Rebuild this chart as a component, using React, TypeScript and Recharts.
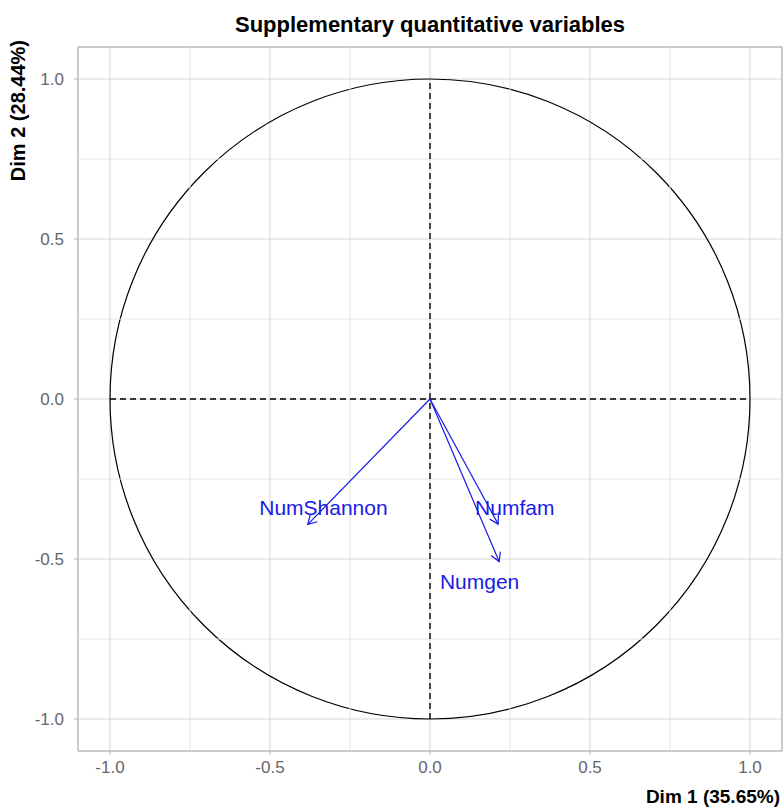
import {
  CartesianGrid,
  ReferenceArea,
  ReferenceLine,
  Scatter,
  ScatterChart,
  XAxis,
  YAxis,
} from "recharts";

const variables = ["NumShannon", "Numfam", "Numgen"];
const dim1 = [-0.382, 0.213, 0.216];
const dim2 = [-0.392, -0.391, -0.508];
const labelDim1 = [-0.333, 0.265, 0.155];
const labelDim2 = [-0.34, -0.34, -0.57];

const majorTicks = [-1, -0.5, 0, 0.5, 1];
const minorTicks = [-0.75, -0.25, 0.25, 0.75];

const FONT = '"Liberation Sans", Arial, sans-serif';
const BLUE = "#1a1ae6";

const labels = variables.map((name, i) => ({ name, x: labelDim1[i], y: labelDim2[i] }));

function Arrow(p: any) {
  const { x1, y1, x2, y2 } = p;
  const a = Math.atan2(y2 - y1, x2 - x1);
  const len = 10;
  const spread = Math.PI / 6;
  const ax = x2 - len * Math.cos(a - spread);
  const ay = y2 - len * Math.sin(a - spread);
  const bx = x2 - len * Math.cos(a + spread);
  const by = y2 - len * Math.sin(a + spread);
  return (
    <g stroke={BLUE} strokeWidth={1.2} fill="none">
      <line x1={x1} y1={y1} x2={x2} y2={y2} />
      <polyline points={`${ax},${ay} ${x2},${y2} ${bx},${by}`} />
    </g>
  );
}

function Circle(p: any) {
  return (
    <ellipse
      cx={p.x + p.width / 2}
      cy={p.y + p.height / 2}
      rx={p.width / 2}
      ry={p.height / 2}
      fill="none"
      stroke="#000"
      strokeWidth={1.2}
    />
  );
}

const fmt = (v: number) => v.toFixed(1);

export default function App() {
  return (
    <div style={{ position: "absolute", left: 0, top: 0, width: 783, height: 807, background: "#fff" }}>
      <div
        style={{
          position: "absolute",
          left: 78,
          top: 13,
          width: 704,
          textAlign: "center",
          fontFamily: FONT,
          fontWeight: "bold",
          fontSize: 22,
          lineHeight: "24px",
          color: "#000",
        }}
      >
        Supplementary quantitative variables
      </div>
      <ScatterChart width={783} height={807} margin={{ top: 47, right: 1, bottom: 26, left: 0 }}>
        <CartesianGrid stroke="#d6d6d6" strokeWidth={1} />
        <XAxis
          type="number"
          dataKey="x"
          domain={[-1.1, 1.1]}
          ticks={majorTicks}
          tickFormatter={fmt}
          allowDataOverflow
          axisLine={false}
          tickLine={{ stroke: "#b3b3b3" }}
          tickSize={4}
          tickMargin={6}
          height={30}
          tick={{ fill: "#666", fontSize: 17, fontFamily: FONT }}
          label={{
            content: (props: any) => {
              const vb = props.viewBox;
              return (
                <text
                  x={vb.x + vb.width - 2}
                  y={vb.y + 45}
                  textAnchor="end"
                  dominantBaseline="central"
                  fontFamily={FONT}
                  fontWeight="bold"
                  fontSize={19}
                  fill="#000"
                >
                  Dim 1 (35.65%)
                </text>
              );
            },
          }}
        />
        <YAxis
          type="number"
          dataKey="y"
          domain={[-1.1, 1.1]}
          ticks={majorTicks}
          tickFormatter={fmt}
          allowDataOverflow
          axisLine={false}
          tickLine={{ stroke: "#b3b3b3" }}
          tickSize={4}
          tickMargin={10}
          width={78}
          tick={{ fill: "#666", fontSize: 17, fontFamily: FONT }}
          label={{
            content: () => (
              <text
                x={18}
                y={40}
                transform="rotate(-90 18 40)"
                textAnchor="end"
                dominantBaseline="central"
                fontFamily={FONT}
                fontWeight="bold"
                fontSize={20}
                fill="#000"
              >
                Dim 2 (28.44%)
              </text>
            ),
          }}
        />
        {minorTicks.map((t) => (
          <ReferenceLine key={`mx${t}`} x={t} stroke="#e6e6e6" strokeWidth={1} />
        ))}
        {minorTicks.map((t) => (
          <ReferenceLine key={`my${t}`} y={t} stroke="#e6e6e6" strokeWidth={1} />
        ))}
        <ReferenceArea x1={-1.1} x2={1.1} y1={-1.1} y2={1.1} fill="none" stroke="#aaaaaa" strokeWidth={1} />
        <ReferenceArea x1={-1} x2={1} y1={-1} y2={1} shape={Circle} />
        <ReferenceLine
          segment={[{ x: -1, y: 0 }, { x: 1, y: 0 }]}
          stroke="#000"
          strokeWidth={1.4}
          strokeDasharray="6 4"
        />
        <ReferenceLine
          segment={[{ x: 0, y: -1 }, { x: 0, y: 1 }]}
          stroke="#000"
          strokeWidth={1.4}
          strokeDasharray="6 4"
        />
        {variables.map((name, i) => (
          <ReferenceLine
            key={name}
            segment={[{ x: 0, y: 0 }, { x: dim1[i], y: dim2[i] }]}
            shape={Arrow}
          />
        ))}
        <Scatter
          data={labels}
          isAnimationActive={false}
          shape={(p: any) => (
            <text
              x={p.cx}
              y={p.cy}
              textAnchor="middle"
              dominantBaseline="central"
              fontFamily={FONT}
              fontSize={21}
              fill={BLUE}
            >
              {p.payload.name}
            </text>
          )}
        />
      </ScatterChart>
    </div>
  );
}
